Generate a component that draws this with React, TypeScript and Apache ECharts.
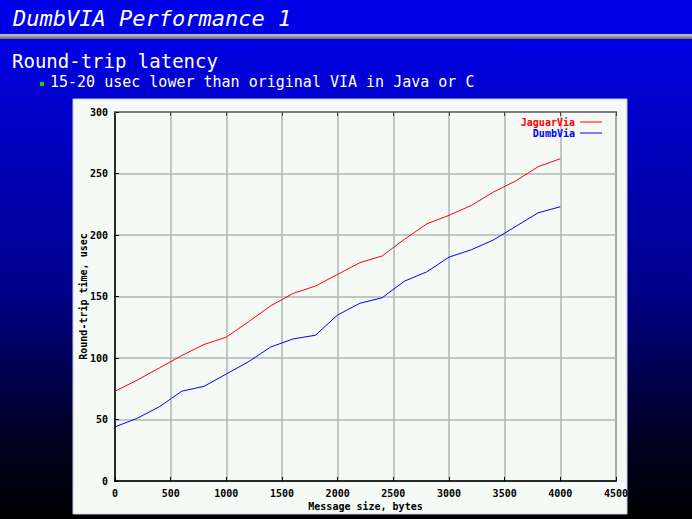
import React, { useEffect, useRef } from "react";
import * as echarts from "echarts";

const sizes = [0, 200, 400, 600, 800, 1000, 1200, 1400, 1600, 1800, 2000, 2200, 2400, 2600, 2800, 3000, 3200, 3400, 3600, 3800, 4000];
const jaguarVia = [73, 82, 92, 102, 111, 117, 129.5, 142.5, 152.5, 158.5, 168, 177.5, 183, 196.5, 209, 216, 224, 235, 244, 255.5, 262];
const dumbVia = [44, 51, 60.5, 73, 77, 87, 97, 109, 115.5, 118.5, 135, 144.5, 149, 162.5, 170, 182, 188, 196, 207, 218, 223];
const seriesNames = ["JaguarVia", "DumbVia"];
const seriesColors = ["#ff0000", "#0000ff"];

const titleText = "DumbVIA Performance 1";
const subtitleText = "Round-trip latency";
const bulletText = "15-20 usec lower than original VIA in Java or C";
const xName = "Message size, bytes";
const yName = "Round-trip time, usec";

const MONO = "'DejaVu Sans Mono', 'Liberation Mono', monospace";

export default function App() {
  const ref = useRef<HTMLDivElement>(null);
  useEffect(() => {
    if (!ref.current) return;
    const chart = echarts.init(ref.current, undefined, { renderer: "svg", width: 692, height: 519 });
    const pair = (ys: number[]) => sizes.map((x, i) => [x, ys[i]]);
    const axisLabel = { fontFamily: MONO, fontWeight: "bold" as const, fontSize: 10, color: "#000" };
    chart.setOption({
      animation: false,
      graphic: [
        {
          type: "rect", z: -10, silent: true,
          shape: { x: 0, y: 0, width: 692, height: 519 },
          style: {
            fill: new echarts.graphic.LinearGradient(0, 0, 0, 1, [
              { offset: 0, color: "#0000f2" },
              { offset: 0.2, color: "#0000cc" },
              { offset: 0.55, color: "#00008c" },
              { offset: 0.85, color: "#000020" },
              { offset: 1, color: "#000000" },
            ]),
          },
        },
        {
          type: "rect", z: -9, silent: true,
          shape: { x: 0, y: 0, width: 692, height: 34 },
          style: { fill: "#0000e8" },
        },
        {
          type: "rect", z: -9, silent: true,
          shape: { x: 0, y: 34, width: 692, height: 5 },
          style: {
            fill: new echarts.graphic.LinearGradient(0, 0, 0, 1, [
              { offset: 0, color: "#c8c8c8" },
              { offset: 0.5, color: "#a0a0a0" },
              { offset: 1, color: "#686868" },
            ]),
          },
        },
        {
          type: "text", x: 13, y: 29, z: 5,
          style: { text: titleText, fill: "#ffffff", fontFamily: MONO, fontStyle: "italic", fontSize: 22, verticalAlign: "bottom" },
        },
        {
          type: "text", x: 12, y: 70, z: 5,
          style: { text: subtitleText, fill: "#ffffff", fontFamily: MONO, fontSize: 19, verticalAlign: "bottom" },
        },
        {
          type: "rect", z: 5,
          shape: { x: 40, y: 82, width: 4, height: 4 },
          style: { fill: "#00e000" },
        },
        {
          type: "text", x: 50, y: 89, z: 5,
          style: { text: bulletText, fill: "#ffffff", fontFamily: MONO, fontSize: 15, verticalAlign: "bottom" },
        },
        {
          type: "rect", z: -5, silent: true,
          shape: { x: 73, y: 99, width: 554, height: 415 },
          style: { fill: "#f6faf6", stroke: "#c8c8e8", lineWidth: 1 },
        },
      ],
      grid: {
        left: 115, right: 76, top: 112, bottom: 38,
        show: true, borderColor: "#888888", borderWidth: 2, backgroundColor: "transparent",
      },
      legend: {
        orient: "vertical", align: "right", right: 85, top: 112,
        itemWidth: 22, itemHeight: 1, itemGap: 1, icon: "rect",
        textStyle: { fontFamily: MONO, fontWeight: "bold", fontSize: 10, padding: [0, 0, 0, 0] },
        data: seriesNames.map((n, i) => ({ name: n, textStyle: { color: seriesColors[i] } })),
      },
      xAxis: [
        {
          type: "value", min: 0, max: 4500, interval: 500, position: "bottom",
          name: xName, nameLocation: "middle", nameGap: 20, nameMoveOverlap: false,
          nameTextStyle: { fontFamily: MONO, fontWeight: "bold", fontSize: 10, color: "#000" },
          axisLine: { show: true, lineStyle: { color: "#000", width: 1.5 } },
          axisTick: { show: true, inside: true, length: 4, lineStyle: { color: "#000" } },
          axisLabel: { ...axisLabel, margin: 7, showMaxLabel: true, formatter: (v: number) => String(v) },
          splitLine: { show: true, lineStyle: { color: "#a8bab0", width: 1.5 } },
        },
        {
          type: "value", min: 0, max: 4500, interval: 500, position: "top",
          axisLine: { show: true, lineStyle: { color: "#808080", width: 2 } },
          axisTick: { show: true, inside: true, length: 4, lineStyle: { color: "#444" } },
          axisLabel: { show: false },
          splitLine: { show: false },
        },
      ],
      yAxis: {
        type: "value", min: 0, max: 300, interval: 50,
        name: yName, nameLocation: "middle", nameGap: 27, nameRotate: 90, nameMoveOverlap: false,
        nameTextStyle: { fontFamily: MONO, fontWeight: "bold", fontSize: 10, color: "#000" },
        axisLine: { show: true, lineStyle: { color: "#000", width: 1.5 } },
        axisTick: { show: true, inside: true, length: 4, lineStyle: { color: "#000" } },
        axisLabel: { ...axisLabel, margin: 7, formatter: (v: number) => String(v) },
        splitLine: { show: true, lineStyle: { color: "#a8bab0", width: 1.5 } },
      },
      series: [
        {
          name: seriesNames[0], type: "line", data: pair(jaguarVia), showSymbol: false, symbol: "none",
          lineStyle: { color: seriesColors[0], width: 1 }, itemStyle: { color: seriesColors[0] }, z: 3,
        },
        {
          name: seriesNames[1], type: "line", data: pair(dumbVia), showSymbol: false, symbol: "none",
          lineStyle: { color: seriesColors[1], width: 1 }, itemStyle: { color: seriesColors[1] }, z: 3,
        },
      ],
    });
    return () => chart.dispose();
  }, []);
  return (
    <div
      ref={ref}
      style={{ position: "fixed", left: 0, top: 0, width: 692, height: 519, background: "#000" }}
    />
  );
}
